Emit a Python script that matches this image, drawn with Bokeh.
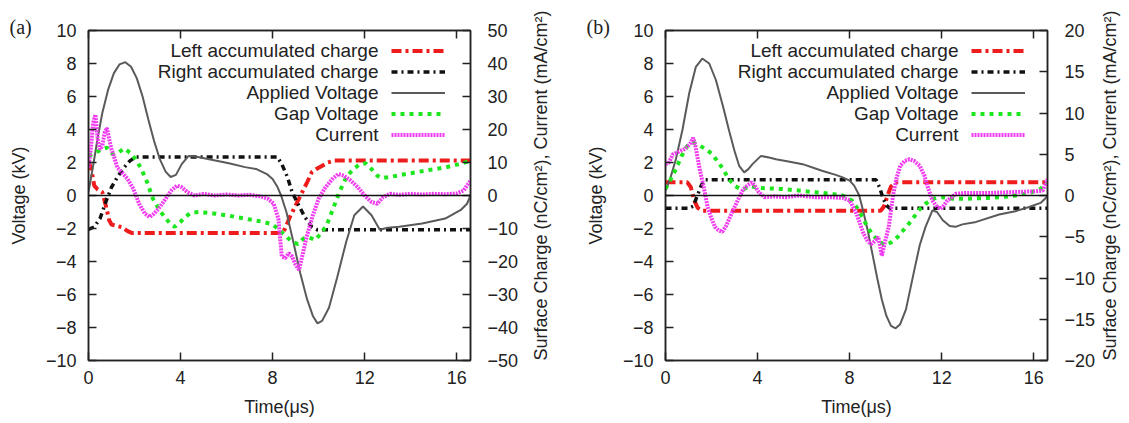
import math
from bokeh.plotting import figure
from bokeh.models import (Range1d, LinearAxis, FixedTicker, Span, Legend, LegendItem, Label, Title)
from bokeh.layouts import row
from bokeh.core.properties import value
from bokeh.embed import file_html
from bokeh.resources import INLINE

# ---------------- data: panel (a) ----------------
a_applied_t = [0, 0.2, 0.4, 0.6, 0.85, 1.1, 1.35, 1.6, 1.85, 2.1, 2.35, 2.6, 2.85, 3.1, 3.35, 3.57, 3.8,
               4.05, 4.35, 4.7, 5.4, 6.1, 6.8, 7.3, 7.75, 8.0, 8.2, 8.37, 8.6, 8.9, 9.2, 9.5, 9.75, 9.95,
               10.15, 10.45, 10.8, 11.2, 11.55, 11.93, 12.3, 12.66, 13.0, 13.5, 14.5, 15.5, 16.2, 16.45, 16.6]
a_applied_v = [0.2, 1.8, 3.5, 5.0, 6.4, 7.4, 7.95, 8.08, 7.8, 7.1, 6.0, 4.6, 3.3, 2.2, 1.45, 1.12, 1.25,
               1.9, 2.4, 2.35, 2.15, 1.95, 1.72, 1.6, 1.3, 1.0, 0.55, 0.0, -1.0, -2.8, -4.7, -6.3, -7.3, -7.75,
               -7.6, -6.8, -5.0, -2.8, -1.2, -0.67, -1.2, -2.08, -1.95, -1.9, -1.7, -1.4, -0.85, -0.5, 0.0]

a_left_t = [0, 0.12, 0.25, 0.4, 0.6, 0.75, 0.9, 1.0, 1.2, 1.45, 1.7, 1.9, 8.4, 8.55, 8.75, 9.0, 9.25,
            9.5, 9.7, 9.9, 10.1, 10.4, 10.7, 16.6]
a_left_q = [10.5, 8.0, 3.0, 1.8, 1.0, -3.0, -7.5, -8.8, -9.2, -9.6, -10.8, -11.4, -11.4, -10.0, -6.5,
            -3.0, 0.5, 4.0, 7.0, 8.0, 8.8, 10.0, 10.6, 10.6]

a_right_t = [0, 0.25, 0.5, 0.75, 1.0, 1.25, 1.55, 1.8, 2.05, 8.2, 8.4, 8.65, 8.85, 9.1, 9.4, 9.7, 9.95, 16.6]
a_right_q = [-10.3, -9.5, -7.0, -2.0, 2.5, 5.5, 8.5, 10.5, 11.7, 11.7, 9.5, 5.5, 1.0, -2.5, -6.5, -9.5,
             -10.4, -10.4]

a_gap_t = [0, 0.3, 0.6, 0.8, 1.05, 1.3, 1.55, 1.8, 2.05, 2.3, 2.55, 2.8, 3.05, 3.3, 3.55, 3.75, 4.0, 4.2,
           4.45, 4.8, 5.5, 6.2, 7.0, 7.6, 8.0, 8.3, 8.6, 8.85, 9.1, 9.35, 9.6, 9.85, 10.1, 10.35, 10.6,
           10.9, 11.2, 11.5, 11.8, 12.05, 12.3, 12.55, 12.75, 13.2, 14.0, 14.8, 15.5, 16.1, 16.6]
a_gap_v = [2.4, 2.6, 2.8, 2.9, 2.5, 2.6, 2.85, 2.6, 2.2, 1.6, 0.8, -0.2, -0.8, -1.3, -1.7, -1.9, -1.6,
           -1.3, -1.05, -1.0, -1.1, -1.25, -1.45, -1.6, -1.75, -2.1, -2.5, -2.8, -2.95, -2.6, -2.55, -2.7,
           -2.3, -1.8, -0.9, 0.2, 1.1, 1.6, 1.9, 1.95, 1.6, 1.2, 1.05, 1.15, 1.35, 1.55, 1.7, 1.9, 2.1]

a_cur_t = [0, 0.1, 0.2, 0.3, 0.4, 0.5, 0.6, 0.7, 0.8, 0.9, 1.0, 1.1, 1.25, 1.45, 1.7, 1.95, 2.2, 2.45,
           2.65, 2.85, 3.1, 3.35, 3.6, 3.85, 4.05, 4.3, 4.6, 5.0, 5.5, 6.0, 6.5, 7.0, 7.5, 7.8, 8.05, 8.25,
           8.4, 8.55, 8.7, 8.85, 9.0, 9.15, 9.3, 9.5, 9.75, 10.0, 10.3, 10.6, 10.85, 11.1, 11.4, 11.7,
           12.0, 12.3, 12.55, 12.8, 13.1, 13.5, 14.0, 14.5, 15.0, 15.5, 16.0, 16.3, 16.6]
a_cur_j = [8.5, 14, 22, 24.5, 17, 14, 15, 19, 20.5, 17, 14, 12, 8.5, 7, 5, 2, -2.5, -5.5, -6.5, -5.5,
           -3.5, -1, 1.5, 3, 2.5, 1, 0, 0.5, 0, 0.3, 0, 0.2, -0.3, -1, -2.5, -7, -18.5, -19, -17.5,
           -18.5, -21, -22.5, -18, -12, -6, -1, 2.5, 5, 6.5, 6, 4.5, 2.5, 0, -2, -2.5, -0.5, 0.5, 0.2,
           0.5, 0.3, 0.5, 0.4, 0.6, 1.5, 4.5]

# ---------------- data: panel (b) ----------------
b_applied_t = [0, 0.2, 0.45, 0.74, 1.03, 1.32, 1.6, 1.9, 2.19, 2.5, 2.77, 3.0, 3.2, 3.42, 3.6, 3.78,
               4.15, 4.5, 4.8, 5.4, 5.96, 6.8, 7.4, 7.7, 8.0, 8.2, 8.42, 8.6, 8.8, 9.0, 9.2, 9.4, 9.6,
               9.8, 10.0, 10.2, 10.45, 10.8, 11.05, 11.3, 11.6, 11.8, 12.05, 12.35, 12.6, 12.9, 13.5,
               14.5, 15.2, 15.8, 16.3, 16.6]
b_applied_v = [0.3, 1.0, 2.2, 4.0, 6.2, 7.8, 8.3, 8.0, 7.0, 5.4, 3.9, 2.7, 1.8, 1.4, 1.6, 1.9,
               2.4, 2.3, 2.2, 2.05, 1.9, 1.5, 1.25, 1.1, 0.9, 0.6, 0.0, -1.0, -2.2, -3.6, -5.0, -6.3,
               -7.3, -7.9, -8.05, -7.8, -6.9, -4.6, -3.0, -1.9, -0.9, -1.0, -1.5, -1.85, -1.9, -1.75,
               -1.6, -1.15, -0.95, -0.7, -0.45, -0.05]

b_left_t = [0, 0.95, 1.1, 1.25, 1.4, 1.6, 9.35, 9.5, 9.65, 9.8, 10.0, 16.6]
b_left_q = [1.6, 1.6, 1.0, -0.6, -1.5, -1.85, -1.85, -1.3, 0.0, 1.1, 1.6, 1.6]

b_right_t = [0, 1.0, 1.2, 1.4, 1.55, 1.7, 9.15, 9.3, 9.45, 9.6, 9.75, 16.6]
b_right_q = [-1.55, -1.55, -1.3, 0.1, 1.2, 1.9, 1.9, 1.0, -0.3, -1.2, -1.55, -1.55]

b_gap_t = [0, 0.2, 0.45, 0.7, 0.95, 1.2, 1.45, 1.7, 2.0, 2.25, 2.5, 2.75, 3.0, 3.3, 3.7, 4.2, 5.0,
           5.8, 6.5, 7.2, 7.7, 8.1, 8.4, 8.7, 9.0, 9.3, 9.55, 9.8, 10.1, 10.4, 10.7, 11.0, 11.3, 11.6,
           12.0, 12.5, 13.0, 14.0, 15.0, 15.8, 16.3, 16.6]
b_gap_v = [0.4, 0.9, 1.6, 2.4, 3.0, 3.2, 3.05, 2.85, 2.55, 2.1, 1.6, 1.0, 0.6, 0.35, 0.55, 0.45, 0.4,
           0.3, 0.2, 0.1, 0.0, -0.3, -0.9, -1.7, -2.4, -2.8, -3.0, -2.85, -2.5, -2.0, -1.5, -0.9,
           -0.5, -0.2, -0.1, -0.2, -0.2, -0.15, -0.05, 0.15, 0.4, 0.8]

b_cur_t = [0, 0.15, 0.32, 0.5, 0.64, 0.8, 0.95, 1.1, 1.2, 1.3, 1.4, 1.5, 1.6, 1.72, 1.83, 2.0, 2.15,
           2.3, 2.47, 2.65, 2.87, 3.1, 3.35, 3.55, 3.75, 3.9, 4.05, 4.3, 4.7, 5.2, 5.8, 6.5, 7.2, 7.7,
           8.0, 8.3, 8.6, 8.8, 8.95, 9.1, 9.25, 9.4, 9.55, 9.7, 9.9, 10.05, 10.2, 10.4, 10.6, 10.8,
           11.05, 11.25, 11.4, 11.6, 11.8, 11.95, 12.1, 12.25, 12.45, 12.6, 13.0, 14.0, 15.0, 16.0,
           16.4, 16.6]
b_cur_j = [3.8, 4.0, 5.0, 5.2, 5.4, 5.6, 5.9, 6.4, 7.0, 6.0, 4.5, 3.0, 1.8, 0.2, -1.4, -2.8, -3.8,
           -4.2, -4.4, -3.6, -2.2, -0.8, 0.6, 1.2, 1.6, 1.1, 0.4, -0.2, -0.1, -0.2, 0.0, -0.2, -0.2,
           -0.3, -0.6, -2.2, -4.6, -5.6, -5.9, -5.5, -5.0, -7.3, -5.5, -3.8, 0.2, 2.2, 3.6, 4.2, 4.4,
           4.2, 3.6, 2.4, 1.0, -0.6, -1.4, -1.6, -1.2, -0.6, -0.2, 0.2, 0.3, 0.3, 0.4, 0.5, 0.6, 2.0]

x_ticks = [0, 4, 8, 12, 16]
v_ticks = [-10, -8, -6, -4, -2, 0, 2, 4, 6, 8, 10]
a_q_ticks = [-50, -40, -30, -20, -10, 0, 10, 20, 30, 40, 50]
b_q_ticks = [-20, -15, -10, -5, 0, 5, 10, 15, 20]
legend_labels = ["Left accumulated charge", "Right accumulated charge", "Applied Voltage",
                 "Gap Voltage", "Current"]

FONT = "Liberation Sans"


def style_axis(ax, ticks, standoff, label_standoff):
    ax.ticker = FixedTicker(ticks=ticks)
    ax.major_tick_in = 8
    ax.major_tick_out = 0
    ax.minor_tick_in = 0
    ax.minor_tick_out = 0
    ax.axis_line_color = "#222222"
    ax.axis_line_width = 1.5
    ax.major_tick_line_color = "#222222"
    ax.major_tick_line_width = 1.5
    ax.major_label_text_font = FONT
    ax.major_label_text_font_size = "18px"
    ax.major_label_text_color = "#222222"
    ax.major_label_standoff = standoff
    ax.axis_label_text_font = FONT
    ax.axis_label_text_font_size = "18px"
    ax.axis_label_text_font_style = "normal"
    ax.axis_label_text_color = "#222222"
    ax.axis_label_standoff = label_standoff


def make_panel(tag, q_max, q_ticks, border_left, border_right, q_label_standoff,
               legend_x, text_x, series):
    (app_t, app_v, l_t, l_q, r_t, r_q, g_t, g_v, c_t, c_j) = series
    p = figure(frame_width=382, frame_height=330,
               min_border_left=border_left, min_border_right=border_right,
               min_border_top=30, min_border_bottom=55,
               x_range=Range1d(0, 16.6), y_range=Range1d(-10, 10),
               output_backend="svg", toolbar_location=None,
               x_axis_label="Time(\u03bcs)", y_axis_label="Voltage (kV)")
    p.extra_y_ranges = {"q": Range1d(-q_max, q_max)}
    p.xgrid.visible = False
    p.ygrid.visible = False
    p.outline_line_color = "#222222"
    p.outline_line_width = 1.5
    p.background_fill_color = "white"
    p.border_fill_color = "white"

    style_axis(p.xaxis[0], x_ticks, 10, 10)
    style_axis(p.yaxis[0], v_ticks, 12, 14)

    # top axis first (nearest the frame), then the panel tag above it
    top = LinearAxis()
    style_axis(top, x_ticks, 0, 0)
    top.major_label_overrides = {t: "" for t in x_ticks}
    p.add_layout(top, "above")

    p.add_layout(Title(text=tag, align="left", offset=-79, standoff=-14,
                       text_font="Liberation Serif", text_font_size="20px",
                       text_font_style="normal", text_color="#222222"), "above")

    rax = LinearAxis(y_range_name="q",
                     axis_label="Surface Charge (nC/cm\u00b2), Current (mA/cm\u00b2)")
    style_axis(rax, q_ticks, 17, q_label_standoff)
    if "axis_label_align" in rax.properties():
        rax.axis_label_orientation = math.pi / 2
        rax.axis_label_align = "start"
    p.add_layout(rax, "right")

    p.add_layout(Span(location=0, dimension="width", line_color="#111111", line_width=1.5))

    r_left = p.line(l_t, l_q, y_range_name="q", line_color="#ee1c1c", line_width=4,
                    line_dash="10 4 3 4")
    r_right = p.line(r_t, r_q, y_range_name="q", line_color="#111111", line_width=3.5,
                     line_dash="6 4 2 4")
    r_app = p.line(app_t, app_v, line_color="#5a5a5a", line_width=2)
    r_gap = p.line(g_t, g_v, line_color="#1ee61e", line_width=4, line_dash="4 5")
    r_cur = p.line(c_t, c_j, y_range_name="q", line_color="#f03cf0", line_width=4,
                   line_dash="2 1")

    renderers = [r_left, r_right, r_app, r_gap, r_cur]
    items = [LegendItem(label=value(""), renderers=[r]) for r in renderers]
    leg = Legend(items=items, location=(legend_x, 215), orientation="vertical",
                 glyph_width=54, glyph_height=21, spacing=0, padding=0, margin=0,
                 label_standoff=0, label_width=0, label_height=21,
                 label_text_font_size="12px", background_fill_alpha=0,
                 border_line_alpha=0)
    p.add_layout(leg)

    for i, txt in enumerate(legend_labels):
        p.add_layout(Label(x=text_x, y=310 - 21 * i, x_units="screen", y_units="screen",
                           text=txt, text_align="right", text_baseline="middle",
                           text_font=FONT, text_font_size="19px",
                           text_color="#222222"))
    return p


pa = make_panel("(a)", 50, a_q_ticks, 88, 90, 20, 303, 290,
                (a_applied_t, a_applied_v, a_left_t, a_left_q, a_right_t, a_right_q,
                 a_gap_t, a_gap_v, a_cur_t, a_cur_j))
pb = make_panel("(b)", 20, b_q_ticks, 101, 80, 12, 306, 293,
                (b_applied_t, b_applied_v, b_left_t, b_left_q, b_right_t, b_right_q,
                 b_gap_t, b_gap_v, b_cur_t, b_cur_j))

layout = row(pa, pb, spacing=0)
open("out.html", "w").write(file_html(layout, INLINE))
